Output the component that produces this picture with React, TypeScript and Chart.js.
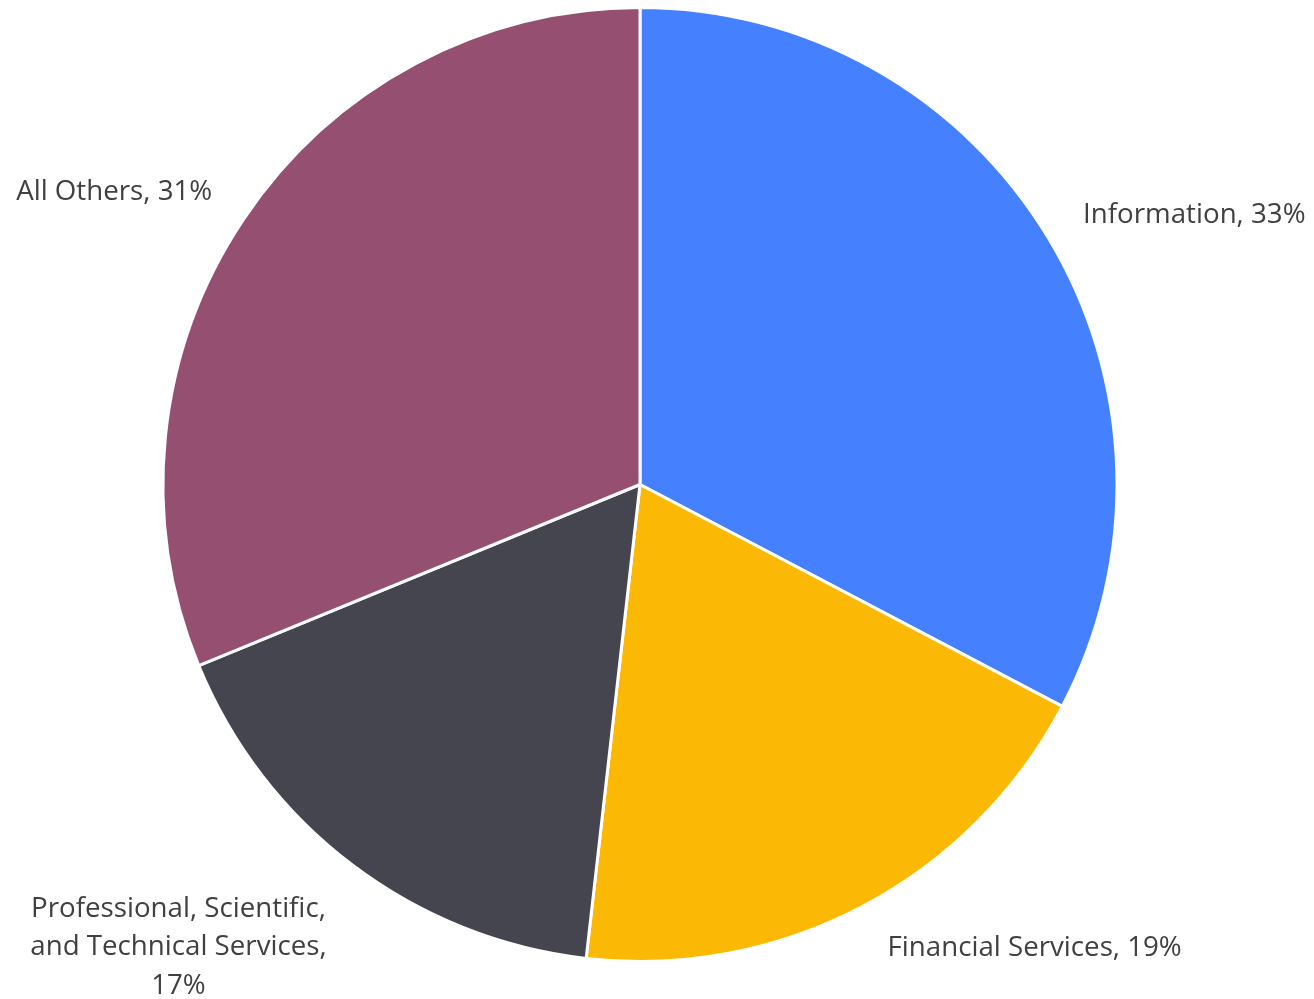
import React, { useEffect, useRef } from "react";
import { Chart, registerables } from "chart.js";

Chart.register(...registerables);

const categories: string[][] = [
  ["Information, 33%"],
  ["Financial Services, 19%"],
  ["Professional, Scientific,", "and Technical Services,", "17%"],
  ["All Others, 31%"],
];
const values: number[] = [32.7, 19.1, 17.0, 31.2];
const colors: string[] = ["#4580FE", "#FBB905", "#45454F", "#944F71"];

const FONT = "27.7px 'Open Sans', sans-serif";
const LINE_H = 38.5;
const NUDGE = [
  [-6, 2],
  [2, 0],
  [3, 2],
  [8, 0],
];

const outsideLabels = {
  id: "outsideLabels",
  afterDraw(chart: any) {
    const ctx = chart.ctx;
    const meta = chart.getDatasetMeta(0);
    ctx.save();
    ctx.font = FONT;
    ctx.fillStyle = "#404040";
    ctx.textBaseline = "middle";
    meta.data.forEach((arc: any, i: number) => {
      const p = arc.getProps(["x", "y", "startAngle", "endAngle", "outerRadius"], true);
      const mid = (p.startAngle + p.endAngle) / 2;
      const r = p.outerRadius * 1.1;
      const px = p.x + Math.cos(mid) * r + NUDGE[i][0];
      const py = p.y + Math.sin(mid) * r + NUDGE[i][1];
      const lines = categories[i];
      const widths = lines.map((l) => ctx.measureText(l).width);
      const w = Math.max(...widths);
      const n = lines.length;
      const right = px >= p.x;
      const blockCx = right ? px + w / 2 : px - w / 2;
      const dy = py > p.y ? ((n - 1) * LINE_H) / 2 : -((n - 1) * LINE_H) / 2;
      const blockCy = py + dy + (n > 1 ? 4 : 0);
      ctx.textAlign = "center";
      lines.forEach((l, k) => {
        const y = blockCy + (k - (n - 1) / 2) * LINE_H;
        ctx.fillText(l, blockCx, y);
      });
    });
    ctx.restore();
  },
};

export default function App() {
  const ref = useRef<HTMLCanvasElement>(null);
  useEffect(() => {
    document.body.style.margin = "0";
    const chart = new Chart(ref.current!, {
      type: "pie",
      data: {
        labels: categories.map((c) => c.join(" ")),
        datasets: [
          {
            data: values,
            backgroundColor: colors,
            borderColor: "#ffffff",
            borderWidth: 3,
            hoverBorderWidth: 3,
          },
        ],
      },
      options: {
        animation: false,
        responsive: false,
        layout: { padding: { left: 161, right: 195, top: 6, bottom: 36 } },
        plugins: { legend: { display: false }, tooltip: { enabled: false } },
      },
      plugins: [outsideLabels],
    });
    return () => chart.destroy();
  }, []);
  return (
    <div style={{ width: 1314, height: 999, background: "#fff" }}>
      <canvas ref={ref} width={1314} height={999} style={{ display: "block" }} />
    </div>
  );
}
